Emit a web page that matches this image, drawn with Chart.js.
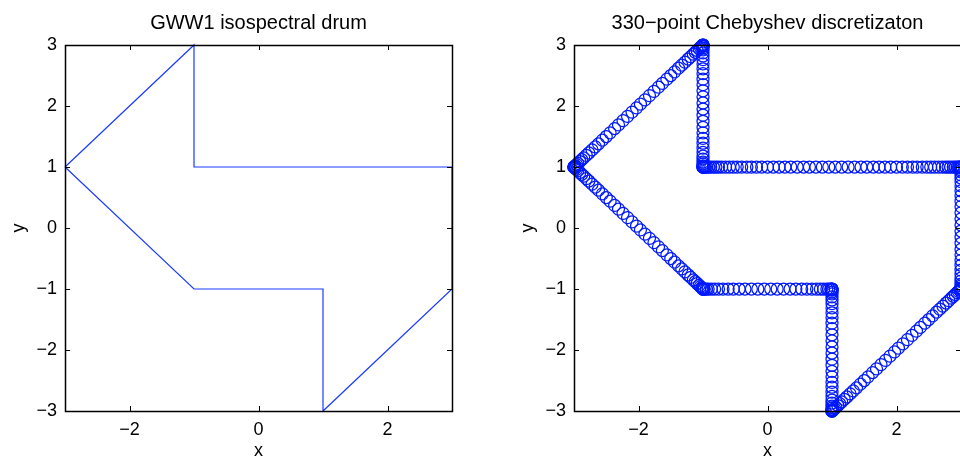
<!DOCTYPE html>
<html>
<head>
<meta charset="utf-8">
<title>GWW1 isospectral drum</title>
<script src="https://cdn.jsdelivr.net/npm/chart.js@4.4.0/dist/chart.umd.min.js"></script>
<style>
  html, body { margin: 0; padding: 0; background: #fff; overflow: hidden; }
  body { width: 960px; height: 460px; position: relative; }
  canvas { position: absolute; top: 0; }
  #chart-drum { left: 0; }
  #chart-cheb { left: 480px; }
</style>
</head>
<body>
<canvas id="chart-drum" width="480" height="460"></canvas>
<canvas id="chart-cheb" width="509" height="460"></canvas>
<script>
// --- Data ---
const xTicks = [-2, 0, 2];
const yTicks = [-3, -2, -1, 0, 1, 2, 3];

// drum outline vertices (closed)
const drumX = [-3, -1, -1, 3, 3, 1, 1, -1, -3];
const drumY = [1, 3, 1, 1, -1, -3, -1, -1, 1];

// 330 boundary points, clustered toward the corners
const chebX = [
  // (-3,1) -> (-1,3)
  -3, -3.00, -2.99, -2.98, -2.96, -2.94, -2.91, -2.88,
  -2.85, -2.81, -2.77, -2.72, -2.67, -2.62, -2.56, -2.50,
  -2.44, -2.37, -2.31, -2.24, -2.17, -2.10, -2.03, -1.97,
  -1.90, -1.83, -1.76, -1.69, -1.63, -1.56, -1.50, -1.44,
  -1.38, -1.33, -1.28, -1.23, -1.19, -1.15, -1.12, -1.09,
  -1.06, -1.04, -1.02, -1.01, -1.00, -1,
  // (-1,3) -> (-1,1)
  -1, -1, -1, -1, -1, -1, -1, -1,
  -1, -1, -1, -1, -1, -1, -1, -1,
  -1, -1, -1, -1, -1, -1, -1, -1,
  -1, -1, -1, -1, -1, -1, -1, -1,
  // (-1,1) -> (3,1)
  -1, -1.00, -0.99, -0.98, -0.96, -0.94, -0.91, -0.88,
  -0.84, -0.80, -0.76, -0.71, -0.65, -0.59, -0.53, -0.47,
  -0.40, -0.32, -0.25, -0.17, -0.09, 0, 0.09, 0.18,
  0.27, 0.36, 0.46, 0.56, 0.65, 0.75, 0.85, 0.95,
  1.05, 1.15, 1.25, 1.35, 1.45, 1.54, 1.64, 1.73,
  1.82, 1.91, 2, 2.09, 2.17, 2.25, 2.32, 2.40,
  2.47, 2.53, 2.59, 2.65, 2.71, 2.76, 2.80, 2.84,
  2.88, 2.91, 2.94, 2.96, 2.98, 2.99, 3.00, 3,
  // (3,1) -> (3,-1)
  3, 3, 3, 3, 3, 3, 3, 3,
  3, 3, 3, 3, 3, 3, 3, 3,
  3, 3, 3, 3, 3, 3, 3, 3,
  3, 3, 3, 3, 3, 3, 3, 3,
  // (3,-1) -> (1,-3)
  3, 3.00, 2.99, 2.98, 2.96, 2.94, 2.91, 2.88,
  2.85, 2.81, 2.77, 2.72, 2.67, 2.62, 2.56, 2.50,
  2.44, 2.37, 2.31, 2.24, 2.17, 2.10, 2.03, 1.97,
  1.90, 1.83, 1.76, 1.69, 1.63, 1.56, 1.50, 1.44,
  1.38, 1.33, 1.28, 1.23, 1.19, 1.15, 1.12, 1.09,
  1.06, 1.04, 1.02, 1.01, 1.00, 1,
  // (1,-3) -> (1,-1)
  1, 1, 1, 1, 1, 1, 1, 1,
  1, 1, 1, 1, 1, 1, 1, 1,
  1, 1, 1, 1, 1, 1, 1, 1,
  1, 1, 1, 1, 1, 1, 1, 1,
  // (1,-1) -> (-1,-1)
  1, 0.99, 0.98, 0.95, 0.92, 0.87, 0.82, 0.76,
  0.69, 0.61, 0.53, 0.44, 0.35, 0.25, 0.15, 0.05,
  -0.05, -0.15, -0.25, -0.35, -0.44, -0.53, -0.61, -0.69,
  -0.76, -0.82, -0.87, -0.92, -0.95, -0.98, -0.99, -1,
  // (-1,-1) -> (-3,1)
  -1, -1.00, -1.01, -1.02, -1.04, -1.06, -1.09, -1.12,
  -1.15, -1.19, -1.23, -1.28, -1.33, -1.38, -1.44, -1.50,
  -1.56, -1.63, -1.69, -1.76, -1.83, -1.90, -1.97, -2.03,
  -2.10, -2.17, -2.24, -2.31, -2.37, -2.44, -2.50, -2.56,
  -2.62, -2.67, -2.72, -2.77, -2.81, -2.85, -2.88, -2.91,
  -2.94, -2.96, -2.98, -2.99, -3.00, -3,
];

const chebY = [
  // (-3,1) -> (-1,3)
  1, 1.00, 1.01, 1.02, 1.04, 1.06, 1.09, 1.12,
  1.15, 1.19, 1.23, 1.28, 1.33, 1.38, 1.44, 1.50,
  1.56, 1.63, 1.69, 1.76, 1.83, 1.90, 1.97, 2.03,
  2.10, 2.17, 2.24, 2.31, 2.37, 2.44, 2.50, 2.56,
  2.62, 2.67, 2.72, 2.77, 2.81, 2.85, 2.88, 2.91,
  2.94, 2.96, 2.98, 2.99, 3.00, 3,
  // (-1,3) -> (-1,1)
  3, 2.99, 2.98, 2.95, 2.92, 2.87, 2.82, 2.76,
  2.69, 2.61, 2.53, 2.44, 2.35, 2.25, 2.15, 2.05,
  1.95, 1.85, 1.75, 1.65, 1.56, 1.47, 1.39, 1.31,
  1.24, 1.18, 1.13, 1.08, 1.05, 1.02, 1.01, 1,
  // (-1,1) -> (3,1)
  1, 1, 1, 1, 1, 1, 1, 1,
  1, 1, 1, 1, 1, 1, 1, 1,
  1, 1, 1, 1, 1, 1, 1, 1,
  1, 1, 1, 1, 1, 1, 1, 1,
  1, 1, 1, 1, 1, 1, 1, 1,
  1, 1, 1, 1, 1, 1, 1, 1,
  1, 1, 1, 1, 1, 1, 1, 1,
  1, 1, 1, 1, 1, 1, 1, 1,
  // (3,1) -> (3,-1)
  1, 0.99, 0.98, 0.95, 0.92, 0.87, 0.82, 0.76,
  0.69, 0.61, 0.53, 0.44, 0.35, 0.25, 0.15, 0.05,
  -0.05, -0.15, -0.25, -0.35, -0.44, -0.53, -0.61, -0.69,
  -0.76, -0.82, -0.87, -0.92, -0.95, -0.98, -0.99, -1,
  // (3,-1) -> (1,-3)
  -1, -1.00, -1.01, -1.02, -1.04, -1.06, -1.09, -1.12,
  -1.15, -1.19, -1.23, -1.28, -1.33, -1.38, -1.44, -1.50,
  -1.56, -1.63, -1.69, -1.76, -1.83, -1.90, -1.97, -2.03,
  -2.10, -2.17, -2.24, -2.31, -2.37, -2.44, -2.50, -2.56,
  -2.62, -2.67, -2.72, -2.77, -2.81, -2.85, -2.88, -2.91,
  -2.94, -2.96, -2.98, -2.99, -3.00, -3,
  // (1,-3) -> (1,-1)
  -3, -2.99, -2.98, -2.95, -2.92, -2.87, -2.82, -2.76,
  -2.69, -2.61, -2.53, -2.44, -2.35, -2.25, -2.15, -2.05,
  -1.95, -1.85, -1.75, -1.65, -1.56, -1.47, -1.39, -1.31,
  -1.24, -1.18, -1.13, -1.08, -1.05, -1.02, -1.01, -1,
  // (1,-1) -> (-1,-1)
  -1, -1, -1, -1, -1, -1, -1, -1,
  -1, -1, -1, -1, -1, -1, -1, -1,
  -1, -1, -1, -1, -1, -1, -1, -1,
  -1, -1, -1, -1, -1, -1, -1, -1,
  // (-1,-1) -> (-3,1)
  -1, -1.00, -0.99, -0.98, -0.96, -0.94, -0.91, -0.88,
  -0.85, -0.81, -0.77, -0.72, -0.67, -0.62, -0.56, -0.50,
  -0.44, -0.37, -0.31, -0.24, -0.17, -0.10, -0.03, 0.03,
  0.10, 0.17, 0.24, 0.31, 0.37, 0.44, 0.50, 0.56,
  0.62, 0.67, 0.72, 0.77, 0.81, 0.85, 0.88, 0.91,
  0.94, 0.96, 0.98, 0.99, 1.00, 1,
];

// --- Style ---
const FONT = "'Liberation Sans', Arial, Helvetica, sans-serif";
const TICK_LEN = 5;
const minusLabel = (v) => String(v).replace('-', '\u2212');

// matlab-style box with inward ticks on all four sides
const boxAxes = {
  id: 'boxAxes',
  afterDatasetsDraw(chart) {
    const { ctx, chartArea: a, scales: { x, y } } = chart;
    ctx.save();
    ctx.strokeStyle = '#000';
    ctx.lineWidth = 1;
    ctx.beginPath();
    x.ticks.forEach((t) => {
      const px = Math.round(x.getPixelForValue(t.value)) + 0.5;
      ctx.moveTo(px, a.bottom); ctx.lineTo(px, a.bottom - TICK_LEN);
      ctx.moveTo(px, a.top); ctx.lineTo(px, a.top + TICK_LEN);
    });
    y.ticks.forEach((t) => {
      const py = Math.round(y.getPixelForValue(t.value)) + 0.5;
      ctx.moveTo(a.left, py); ctx.lineTo(a.left + TICK_LEN, py);
      ctx.moveTo(a.right, py); ctx.lineTo(a.right - TICK_LEN, py);
    });
    ctx.stroke();
    ctx.lineWidth = 1.5;
    ctx.strokeRect(a.left + 0.5, a.top + 0.5, a.right - a.left, a.bottom - a.top);
    ctx.restore();
  },
};

function makeOptions(titleText, yWidth, yTitlePad, padRight) {
  const tickFont = { family: FONT, size: 18 };
  const labelFont = { family: FONT, size: 18 };
  return {
    responsive: false,
    animation: false,
    events: [],
    layout: { padding: { left: 0, right: padRight, top: 0, bottom: 0 } },
    plugins: {
      legend: { display: false },
      tooltip: { enabled: false },
      title: {
        display: true, text: titleText, fullSize: false, color: '#000',
        font: { family: FONT, size: 20, weight: 'normal' },
        padding: { top: 11, bottom: 10 },
      },
    },
    scales: {
      x: {
        type: 'linear', min: -3, max: 3,
        grid: { display: false, drawTicks: false }, border: { display: false },
        afterBuildTicks: (s) => { s.ticks = xTicks.map((v) => ({ value: v })); },
        afterFit: (s) => { s.height = 49; },
        ticks: { color: '#000', padding: 8, font: tickFont, callback: minusLabel, autoSkip: false, maxRotation: 0 },
        title: { display: true, text: 'x', color: '#000', font: labelFont, padding: { top: 0, bottom: -2 } },
      },
      y: {
        type: 'linear', min: -3, max: 3,
        grid: { display: false, drawTicks: false }, border: { display: false },
        afterBuildTicks: (s) => { s.ticks = yTicks.map((v) => ({ value: v })); },
        afterFit: (s) => { s.width = yWidth; },
        ticks: { color: '#000', padding: 8, font: tickFont, callback: minusLabel, autoSkip: false },
        title: { display: true, text: 'y', color: '#000', font: labelFont, padding: { top: yTitlePad, bottom: 0 } },
      },
    },
  };
}

// --- Chart 1: drum outline ---
new Chart(document.getElementById('chart-drum'), {
  type: 'scatter',
  data: {
    datasets: [{
      data: drumX.map((x, i) => ({ x, y: drumY[i] })),
      showLine: true,
      borderColor: '#1a3cff',
      borderWidth: 1.2,
      pointRadius: 0,
      clip: false,
    }],
  },
  options: makeOptions('GWW1 isospectral drum', 65, 8, 28),
  plugins: [boxAxes],
});

// --- Chart 2: boundary points (right edge runs just past the window) ---
new Chart(document.getElementById('chart-cheb'), {
  type: 'scatter',
  data: {
    datasets: [{
      data: chebX.map((x, i) => ({ x, y: chebY[i] })),
      showLine: false,
      pointRadius: 6,
      pointBorderWidth: 1.25,
      pointBorderColor: '#0019ff',
      pointBackgroundColor: 'rgba(0,0,0,0)',
      clip: false,
    }],
  },
  options: makeOptions('330\u2212point Chebyshev discretizaton', 94, 37, 28),
  plugins: [boxAxes],
});
</script>
</body>
</html>
